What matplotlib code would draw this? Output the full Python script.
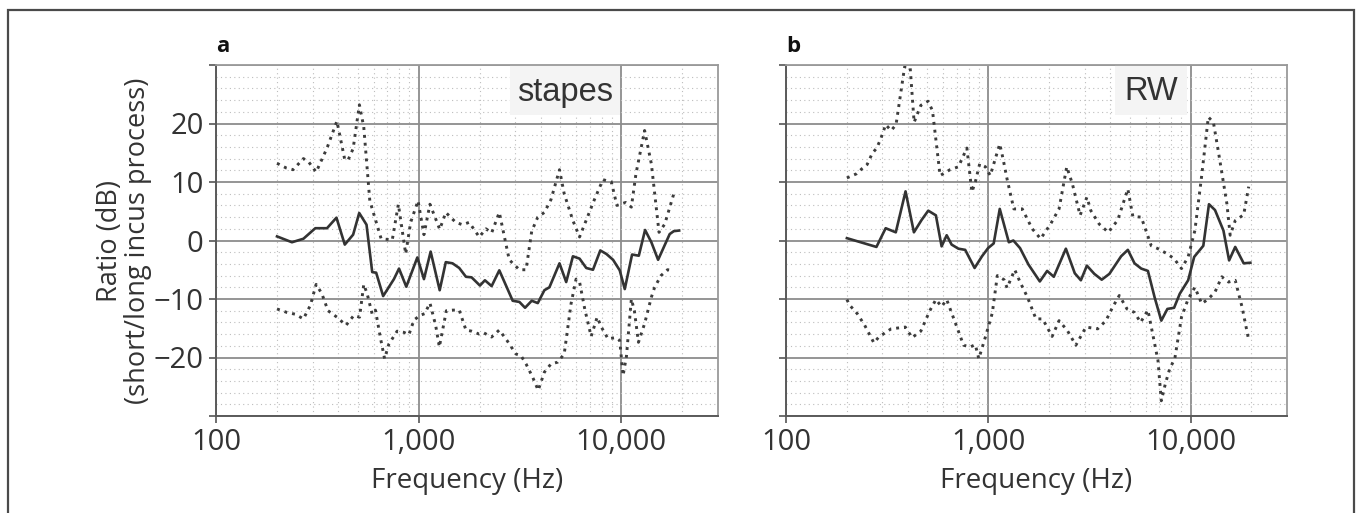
import matplotlib
matplotlib.use("Agg")
import matplotlib.pyplot as plt
from matplotlib.patches import Rectangle
from matplotlib.ticker import LogLocator, MultipleLocator, FixedLocator, FuncFormatter, NullFormatter

plt.rcParams["font.family"] = ["Open Sans", "DejaVu Sans"]

# ---- panel a: stapes ----
stapes_mean_f = [200, 237, 270, 309, 353, 393, 432, 475, 509, 553, 590, 617, 668, 755, 800, 869,
                 985, 1062, 1146, 1270, 1361, 1469, 1586, 1711, 1825, 2006, 2123, 2291, 2500, 2730,
                 2911, 3141, 3350, 3614, 3871, 4173, 4418, 4954, 5346, 5770, 6224, 6716, 7248, 7877,
                 8439, 9105, 9822, 10400, 11300, 12200, 13100, 14070, 15190, 17330, 18160, 19290]
stapes_mean = [0.7, -0.3, 0.3, 2.1, 2.1, 3.9, -0.7, 1.0, 4.7, 2.7, -5.4, -5.5, -9.5, -6.6, -4.8, -7.9,
               -2.9, -6.6, -1.9, -8.5, -3.7, -3.9, -4.7, -6.2, -6.3, -7.7, -6.8, -7.8, -5.1, -8.1,
               -10.3, -10.5, -11.5, -10.3, -10.7, -8.5, -8.0, -3.9, -7.1, -2.7, -3.1, -4.7, -5.0, -1.7,
               -2.3, -3.3, -5.1, -8.3, -2.4, -2.6, 1.8, -0.3, -3.3, 1.1, 1.6, 1.7]

stapes_hi_f = [200, 222, 240, 270, 287, 312, 353, 395, 432, 449, 475, 510, 536, 574, 653, 741, 794,
               863, 913, 993, 1062, 1137, 1271, 1361, 1524, 1645, 1775, 1991, 2148, 2291, 2500, 2799,
               3141, 3388, 3614, 3871, 4173, 4498, 4954, 5226, 5770, 6224, 6716, 7328, 8113, 8933,
               9510, 10500, 11210, 11810, 13030, 14070, 15350, 16380, 18160]
stapes_hi = [13.2, 12.4, 12.1, 14.0, 13.4, 11.7, 15.8, 20.4, 13.8, 13.8, 15.7, 23.2, 19.4, 6.8, 0.3, 0.1, 6.2,
             -2.3, 3.1, 6.8, 1.0, 6.2, 1.9, 4.8, 3.1, 2.7, 3.1, 0.6, 2.0, 1.3, 4.8, -3.3,
             -5.0, -5.0, 1.6, 4.0, 4.8, 7.0, 12.1, 8.0, 3.4, 0.6, 3.5, 6.8, 10.4, 10.0,
             6.0, 6.5, 5.7, 11.4, 18.8, 13.1, 1.4, 2.8, 8.0]

stapes_lo_f = [200, 224, 246, 270, 292, 312, 333, 357, 395, 438, 479, 511, 536, 557, 590, 612, 649, 679,
               713, 783, 845, 895, 948, 1016, 1071, 1137, 1213, 1265, 1370, 1469, 1586, 1711, 1825,
               1991, 2100, 2291, 2500, 2730, 3020, 3200, 3388, 3655, 3890, 4173, 4498, 4853, 5226,
               5650, 5980, 6224, 6600, 7100, 7600, 8000, 8600, 9400, 9822, 10200, 10600, 11210, 11600,
               12150, 13030, 14070, 14600, 15700, 16900, 17900]
stapes_lo = [-11.7, -12.3, -12.6, -13.4, -11.1, -7.5, -9.1, -12.0, -13.1, -14.5, -12.8, -13.1, -7.5, -9.1,
             -12.6, -11.9, -16.8, -20.2, -17.7, -15.5, -15.7, -16.1, -13.6, -12.8, -12.5, -10.7, -14.5,
             -18.2, -12.0, -11.9, -11.9, -15.3, -15.5, -16.0, -15.8, -16.5, -15.3, -17.1, -19.4, -19.7,
             -21.1, -23.4, -25.6, -22.5, -21.1, -20.8, -19.4, -10.8, -6.6, -7.1, -11.7, -16.4, -13.1,
             -14.9, -16.8, -16.6, -17.1, -23.1, -19.8, -10.0, -12.0, -17.4, -14.2, -9.7, -8.0, -6.0,
             -5.0, -5.1]

# ---- panel b: round window ----
rw_mean_f = [200, 280, 311, 349, 390, 429, 468, 505, 551, 588, 623, 659, 712, 769, 856, 931, 998, 1064,
             1140, 1264, 1331, 1436, 1580, 1799, 1955, 2109, 2420, 2678, 2870, 3074, 3345, 3640, 3972,
             4538, 4900, 5287, 5706, 6158, 6645, 7171, 7686, 8295, 8851, 9735, 10430, 11570, 12340,
             13220, 14550, 15520, 16640, 18320, 19770]
rw_mean = [0.4, -1.1, 2.1, 1.4, 8.4, 1.4, 3.5, 5.1, 4.3, -1.0, 0.9, -0.7, -1.4, -1.6, -4.7, -2.7, -1.3, -0.5,
           5.4, -0.3, 0.0, -1.3, -4.1, -7.0, -5.2, -6.2, -1.4, -5.6, -6.8, -4.3, -5.7, -6.7, -5.7,
           -2.7, -1.6, -3.9, -4.8, -5.2, -9.7, -13.7, -11.7, -11.5, -9.1, -6.8, -2.8, -0.9, 6.2,
           5.2, 1.7, -3.4, -1.1, -3.9, -3.8]

rw_hi_f = [200, 223, 238, 252, 267, 281, 295, 311, 331, 350, 386, 411, 430, 464, 504, 530, 578, 647, 712,
           784, 830, 863, 907, 968, 1023, 1140, 1183, 1239, 1338, 1472, 1650, 1815, 2032, 2239, 2444,
           2605, 2845, 3074, 3216, 3538, 3924, 4369, 4900, 5188, 5706, 6397, 6905, 7601, 8295, 9025,
           9735, 10510, 11360, 12250, 12980, 13750, 15130, 15710, 16640, 18320, 19400]
rw_hi = [10.7, 11.4, 12.3, 13.0, 14.9, 15.8, 17.5, 19.8, 18.8, 19.8, 29.7, 29.6, 20.2, 23.1, 23.8, 22.2, 11.1,
         12.1, 12.6, 15.8, 8.3, 10.0, 13.1, 12.6, 11.1, 16.5, 14.0, 10.5, 5.4, 5.4, 2.0, 0.3, 2.8, 5.4,
         12.6, 9.7, 4.3, 7.4, 5.1, 2.8, 1.4, 3.5, 8.8, 4.1, 4.0, -0.9, -1.4, -2.2, -3.1, -4.8, -2.8,
         1.7, 11.1, 21.1, 20.2, 15.1, 6.3, 0.9, 3.4, 4.4, 9.2]

rw_lo_f = [200, 207, 225, 245, 260, 272, 286, 308, 331, 389, 420, 464, 514, 551, 588, 623, 686, 755, 815,
           863, 898, 968, 1047, 1109, 1197, 1239, 1352, 1436, 1563, 1721, 1857, 2069, 2239, 2462, 2711,
           3041, 3476, 3819, 4120, 4446, 4853, 5287, 5665, 6158, 6905, 7171, 7510, 7895, 8363, 9025,
           9735, 10510, 11360, 12250, 13220, 14280, 15420, 16640, 17990, 19400]
rw_lo = [-10.1, -11.1, -12.5, -14.5, -16.2, -17.5, -16.6, -15.8, -15.1, -14.8, -16.6, -15.5, -12.0, -10.1,
         -11.3, -10.1, -14.0, -17.9, -18.2, -17.8, -20.2, -16.5, -12.4, -6.0, -6.7, -8.1, -5.0, -7.1,
         -9.7, -13.4, -13.4, -16.4, -13.7, -15.4, -17.9, -14.8, -15.1, -13.7, -11.4, -9.4, -11.7,
         -12.3, -14.0, -11.9, -20.5, -27.4, -24.5, -21.9, -20.2, -13.1, -10.0, -8.0, -10.8, -10.0,
         -8.8, -6.2, -7.1, -6.8, -11.4, -17.0]

panels = [
    ("a", "stapes", (stapes_mean_f, stapes_mean), (stapes_hi_f, stapes_hi), (stapes_lo_f, stapes_lo)),
    ("b", "RW", (rw_mean_f, rw_mean), (rw_hi_f, rw_hi), (rw_lo_f, rw_lo)),
]

W, H = 1359, 513
fig = plt.figure(figsize=(W / 100, H / 100), dpi=100)
fig.patch.set_facecolor("white")

# outer frame of the figure
fig.add_artist(Rectangle((8 / W, -0.02), (1354 - 8) / W, (H - 10) / H + 0.02,
                         transform=fig.transFigure, fill=False, ec="#4a4a4a", lw=1.6))

text_col = "#333333"
ax_rects = [(216 / W, 1 - 416 / H, 502 / W, 351 / H),
            (786 / W, 1 - 416 / H, 501 / W, 351 / H)]
box_x = [(510, 620), (1115, 1187)]

for i, (letter, name, mean, hi, lo) in enumerate(panels):
    ax = fig.add_axes(ax_rects[i])
    ax.set_xscale("log")
    ax.set_xlim(100, 30000)
    ax.set_ylim(-30, 30)
    ax.set_axisbelow(True)

    ax.xaxis.set_major_locator(FixedLocator([100, 1000, 10000]))
    ax.xaxis.set_major_formatter(FuncFormatter(lambda v, p: f"{int(v):,}"))
    ax.xaxis.set_minor_locator(LogLocator(base=10, subs=range(2, 10)))
    ax.xaxis.set_minor_formatter(NullFormatter())
    ax.yaxis.set_major_locator(MultipleLocator(10))
    ax.yaxis.set_minor_locator(MultipleLocator(2))

    ax.grid(which="major", color="#8c8c8c", lw=1.3, ls="-")
    ax.grid(which="minor", color="#bdbdbd", lw=0.8, ls=(0, (1, 3)))

    ax.tick_params(which="major", direction="out", length=5, width=1.2, color="#555555",
                   labelsize=21, labelcolor=text_col, pad=4)
    ax.tick_params(which="minor", length=0)

    for side in ("left", "bottom"):
        ax.spines[side].set_color("#5a5a5a")
        ax.spines[side].set_linewidth(1.4)
    for side in ("top", "right"):
        ax.spines[side].set_color("#9a9a9a")
        ax.spines[side].set_linewidth(1.3)

    if i == 0:
        ax.yaxis.set_major_formatter(FuncFormatter(
            lambda v, p: "" if abs(v) >= 30 else f"{int(v)}".replace("-", "\u2212")))
        ax.set_ylabel("Ratio (dB)\n(short/long incus process)", fontsize=19.5, color=text_col,
                      labelpad=1, linespacing=1.0)
    else:
        ax.yaxis.set_major_formatter(NullFormatter())

    ax.set_xlabel("Frequency (Hz)", fontsize=20, color=text_col, labelpad=7)

    # label box behind the panel name
    x0, x1 = box_x[i]
    left = ax_rects[i][0] * W
    width = ax_rects[i][2] * W
    ax.add_patch(Rectangle(((x0 - left) / width, 1 - 50 / 351), (x1 - x0) / width, 50 / 351,
                           transform=ax.transAxes, facecolor="#f4f4f4", edgecolor="none", zorder=1.5))
    ax.text(((x0 + x1) / 2 - left) / width, 1 - 27 / 351, name, transform=ax.transAxes,
            ha="center", va="center", fontsize=23.5, color="#333333", family="Liberation Sans",
            zorder=3)

    ax.plot(hi[0], hi[1], color="#3c3c3c", lw=2.1, ls=(0, (1, 1.7)), zorder=2)
    ax.plot(lo[0], lo[1], color="#3c3c3c", lw=2.1, ls=(0, (1, 1.7)), zorder=2)
    ax.plot(mean[0], mean[1], color="#333333", lw=1.9, zorder=2.5)

    ax.text(0.0, 1 + 13 / 351, letter, transform=ax.transAxes, ha="left", va="baseline",
            fontsize=16, fontweight="bold", color="#111111")

fig.savefig("out.png", dpi=100)
